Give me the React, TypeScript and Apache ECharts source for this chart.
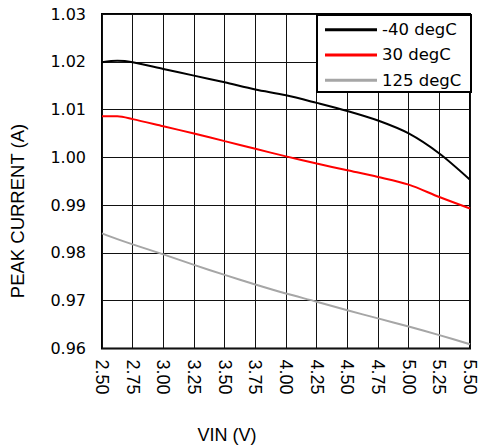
import React, { useEffect, useRef } from "react";
import * as echarts from "echarts";

// Input voltage sample points (V)
const vin = [2.5, 2.625, 2.75, 3.0, 3.25, 3.5, 3.75, 4.0, 4.25, 4.5, 4.75, 5.0, 5.25, 5.5];

// Peak current (A) per temperature
const peakMinus40 = [1.0199, 1.0202, 1.0199, 1.0185, 1.0171, 1.0157, 1.0142, 1.013, 1.0114, 1.0097, 1.0077, 1.005, 1.0008, 0.9953];
const peak30 = [1.0086, 1.0086, 1.008, 1.0065, 1.005, 1.0034, 1.0018, 1.0002, 0.9987, 0.9973, 0.9959, 0.9943, 0.9917, 0.9893];
const peak125 = [0.9841, 0.9829, 0.9818, 0.9797, 0.9775, 0.9754, 0.9734, 0.9715, 0.9698, 0.968, 0.9663, 0.9646, 0.9628, 0.9609];

const seriesNames = ["-40 degC", "30 degC", "125 degC"];
const seriesColors = ["#000000", "#ff0000", "#a6a6a6"];

const xTitle = "VIN (V)";
const yTitle = "PEAK CURRENT (A)";

const SANS = "Liberation Sans, Arial, sans-serif";
const WIDE = "DejaVu Sans, sans-serif";

export default function App() {
  const ref = useRef<HTMLDivElement>(null);

  useEffect(() => {
    if (!ref.current) return;
    const chart = echarts.init(ref.current, undefined, { renderer: "svg" });
    const allValues = [peakMinus40, peak30, peak125];

    chart.setOption({
      animation: false,
      backgroundColor: "#ffffff",
      grid: {
        left: 102,
        right: 9,
        top: 14,
        bottom: 98.5,
        show: true,
        borderColor: "#000",
        borderWidth: 2,
        backgroundColor: "transparent",
      },
      xAxis: {
        type: "value",
        min: 2.5,
        max: 5.5,
        interval: 0.25,
        axisLine: { show: false },
        axisTick: { show: false },
        axisLabel: {
          rotate: -90,
          margin: 11,
          color: "#000",
          fontSize: 18,
          fontFamily: SANS,
          formatter: (v: number) => v.toFixed(2),
        },
        splitLine: { show: true, lineStyle: { color: "#111", width: 1 } },
      },
      yAxis: {
        type: "value",
        min: 0.96,
        max: 1.03,
        interval: 0.01,
        axisLine: { show: false },
        axisTick: { show: false },
        axisLabel: {
          margin: 16,
          color: "#000",
          fontSize: 16,
          fontFamily: WIDE,
          formatter: (v: number) => v.toFixed(2),
        },
        splitLine: { show: true, lineStyle: { color: "#111", width: 1 } },
      },
      graphic: [
        {
          type: "rect",
          left: 316,
          top: 14,
          z: 10,
          shape: { width: 154, height: 77 },
          style: { fill: "#ffffff", stroke: "#000", lineWidth: 2 },
        },
        {
          type: "text",
          x: 227,
          y: 435,
          style: {
            text: xTitle,
            fill: "#000",
            fontSize: 18,
            fontFamily: SANS,
            textAlign: "center",
            textVerticalAlign: "middle",
          },
        },
        {
          type: "text",
          x: 17.5,
          y: 211,
          rotation: Math.PI / 2,
          style: {
            text: yTitle,
            fill: "#000",
            fontSize: 18.5,
            fontFamily: SANS,
            textAlign: "center",
            textVerticalAlign: "middle",
          },
        },
      ],
      legend: {
        orient: "vertical",
        left: 316,
        top: 15,
        z: 20,
        padding: [5, 8, 5, 9],
        itemGap: 6,
        itemWidth: 52,
        itemHeight: 3,
        itemTextGap: 4,
        icon: "rect",
        data: seriesNames,
        textStyle: { color: "#000", fontSize: 16.5, fontFamily: WIDE, lineHeight: 19.3 },
      },
      series: seriesNames.map((name, i) => ({
        name,
        type: "line",
        smooth: 0.3,
        showSymbol: false,
        symbol: "none",
        color: seriesColors[i],
        lineStyle: { color: seriesColors[i], width: 2 },
        data: vin.map((x, j) => [x, allValues[i][j]]),
        z: 5,
      })),
    });

    return () => chart.dispose();
  }, []);

  return (
    <div
      ref={ref}
      style={{ position: "absolute", left: 0, top: 0, width: 479, height: 447 }}
    />
  );
}
